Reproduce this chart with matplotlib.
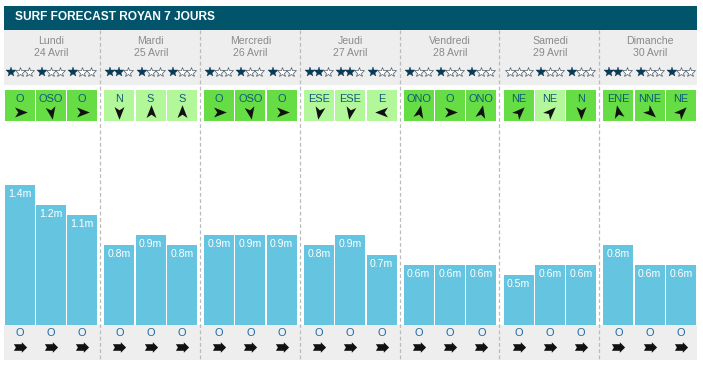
import numpy as np
import matplotlib
matplotlib.use("Agg")
import matplotlib.pyplot as plt
from matplotlib.patches import Rectangle
from matplotlib.path import Path
from matplotlib.markers import MarkerStyle
from matplotlib.transforms import Affine2D

plt.rcParams['font.family'] = ['Liberation Sans', 'DejaVu Sans']

title = "SURF FORECAST ROYAN 7 JOURS"
days = ["Lundi", "Mardi", "Mercredi", "Jeudi", "Vendredi", "Samedi", "Dimanche"]
dates = ["24 Avril", "25 Avril", "26 Avril", "27 Avril", "28 Avril", "29 Avril", "30 Avril"]

# 3 slots per day
stars = [1, 1, 1, 2, 1, 1, 1, 1, 1, 2, 2, 1, 1, 1, 1, 0, 1, 1, 2, 1, 1]
wind_dir = ["O", "OSO", "O", "N", "S", "S", "O", "OSO", "O",
            "ESE", "ESE", "E", "ONO", "O", "ONO", "NE", "NE", "N",
            "ENE", "NNE", "NE"]
wind_good = [1, 1, 1, 0, 0, 0, 1, 1, 1, 0, 0, 0, 1, 1, 1, 1, 0, 1, 1, 1, 1]
wave_m = [1.4, 1.2, 1.1, 0.8, 0.9, 0.8, 0.9, 0.9, 0.9, 0.8, 0.9, 0.7,
          0.6, 0.6, 0.6, 0.5, 0.6, 0.6, 0.8, 0.6, 0.6]
swell_dir = ["O"] * 21

# arrow orientation of the wind icons, as drawn in the source
arrow_angle = {"O": 0, "OSO": -80, "N": -90, "S": 90, "ESE": -100, "E": 180,
               "ONO": 78, "NE": 45, "ENE": 102, "NNE": -42}

W, H = 703, 367
fig = plt.figure(figsize=(W / 100, H / 100), dpi=100)
ax = fig.add_axes([0, 0, 1, 1])
ax.set_xlim(0, W)
ax.set_ylim(H, 0)
ax.axis("off")

left, right = 4, 697
day_w = 99.8
day_x0 = [left + day_w * d for d in range(7)]
slot_x = np.array([x0 + 15.5 + 31.3 * s for x0 in day_x0 for s in range(3)])

# title bar
ax.add_patch(Rectangle((left, 6), right - left, 23.5, color="#02546b", lw=0))
ax.text(15, 17.5, title, color="white", fontsize=8.6, fontweight="bold",
        va="center", ha="left")

# header and footer bands
ax.add_patch(Rectangle((left, 30), right - left, 55, color="#eeeeee", lw=0))
ax.add_patch(Rectangle((left, 325), right - left, 35, color="#eeeeee", lw=0))

for d in range(7):
    cx = day_x0[d] + 47
    ax.text(cx, 41.5, days[d], color="#8a8a8a", fontsize=7.6, ha="center", va="center")
    ax.text(cx, 53.5, dates[d], color="#8a8a8a", fontsize=7.6, ha="center", va="center")

for d in range(1, 7):
    xs = day_x0[d] - 3.6
    ax.plot([xs, xs], [30, 360], color="#bbbbbb", lw=0.9, ls=(0, (3, 2)), zorder=1)

# stars
for i, x in enumerate(slot_x):
    for k in range(3):
        sx = x - 9 + 9 * k
        if k < stars[i]:
            ax.plot(sx, 71.5, marker="*", ms=7, color="#0b3a57", mec="#0b3a57", mew=0.3)
        else:
            ax.plot(sx, 71.5, marker="*", ms=7, color="white", mec="#4a5a66", mew=0.5)

# wind boxes
base = Path([(1, 0), (-0.75, 0.68), (-0.3, 0), (-0.75, -0.68), (1, 0)],
            [Path.MOVETO, Path.LINETO, Path.LINETO, Path.LINETO, Path.CLOSEPOLY])
for i, x in enumerate(slot_x):
    col = "#66dd44" if wind_good[i] else "#b3f79b"
    ax.add_patch(Rectangle((x - 15, 90), 30, 30.5, color=col, lw=0))
    ax.text(x, 98.5, wind_dir[i], color="#0e5a7a", fontsize=7.9, ha="center", va="center")
    m = MarkerStyle(base, transform=Affine2D().rotate_deg(arrow_angle[wind_dir[i]]))
    ax.plot(x, 112, marker=m, ms=10.5, color="#111111", mew=0)

# swell row
swell = Path([(-1, 0.5), (0.2, 0.5), (0.2, 0.8), (1, 0), (0.2, -0.8),
              (0.2, -0.5), (-1, -0.5), (-0.7, 0), (-1, 0.5)],
             [Path.MOVETO] + [Path.LINETO] * 7 + [Path.CLOSEPOLY])
for i, x in enumerate(slot_x):
    ax.text(x, 333.5, swell_dir[i], color="#1b6aa5", fontsize=7.9, ha="center", va="center")
    ax.plot(x, 347, marker=MarkerStyle(swell), ms=9.5, color="#111111", mew=0)

# wave height bars (metres)
axb = fig.add_axes([0, (H - 325) / H, 1, 200 / H])
axb.set_xlim(0, W)
axb.set_ylim(0, 2.0)
axb.axis("off")
axb.patch.set_alpha(0)
axb.bar(slot_x, wave_m, width=30, color="#65c4df", lw=0)
for x, h in zip(slot_x, wave_m):
    axb.annotate(f"{h}m", (x, h), xytext=(0, -6.5), textcoords="offset points",
                 color="white", fontsize=7.6, ha="center", va="center")

fig.savefig("out.png", dpi=100)
